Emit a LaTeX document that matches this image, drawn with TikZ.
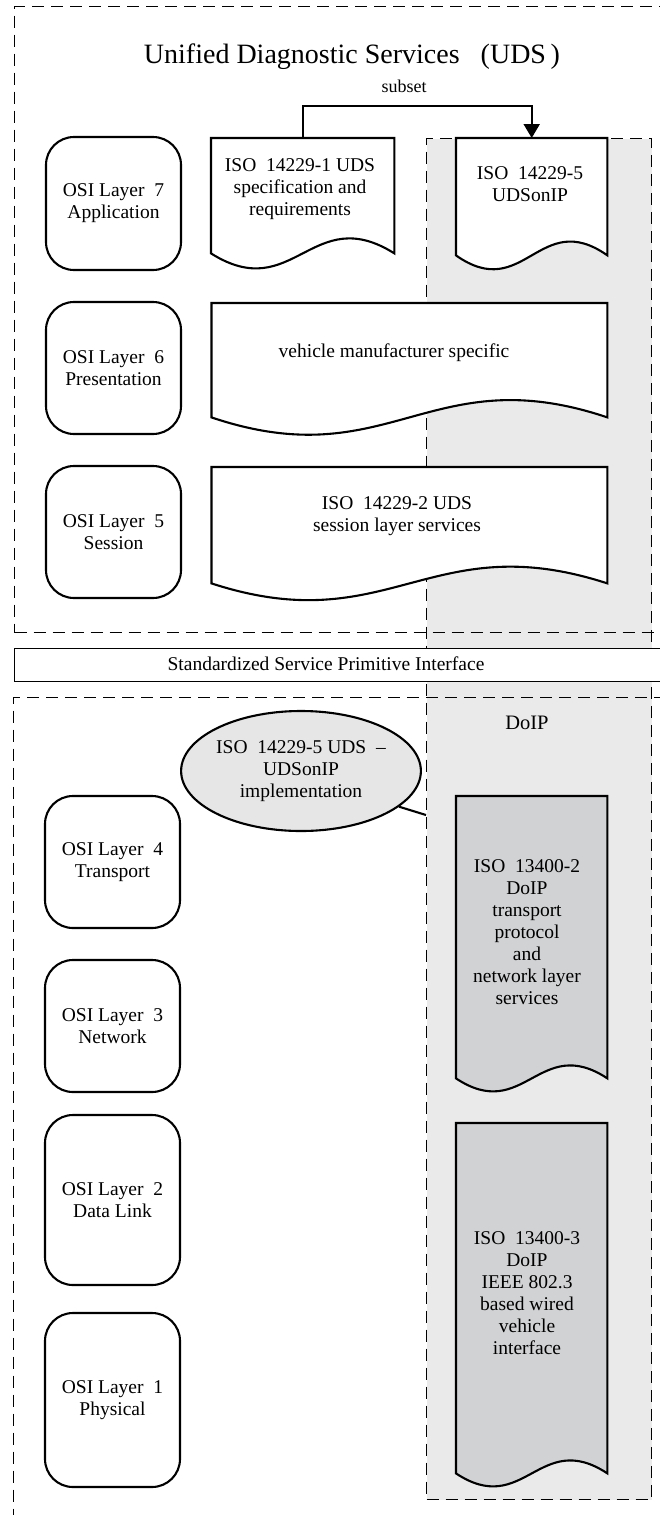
\documentclass[tikz,border=0pt]{standalone}
\usepackage{fontspec}
\setmainfont{Liberation Serif}
\usetikzlibrary{calc,shapes.geometric,arrows.meta}
\definecolor{colgrey}{HTML}{EAEAEA}
\definecolor{docgrey}{HTML}{D1D2D4}
\definecolor{ellgrey}{HTML}{E6E6E6}
\newcommand\normtext{\fontsize{19.5}{22}\selectfont}
\newcommand\docshape[3]{%
  \path[docline,fill=#2] (#1.north west) -- (#1.north east) -- (#1.south east)
    .. controls ($(#1.south west)!0.55!(#1.south east)+(0,-#3)$) and ($(#1.south west)!0.45!(#1.south east)+(0,#3)$) .. (#1.south west) -- cycle;}
\begin{document}
\begin{tikzpicture}[x=1pt,y=-1pt,
  frame/.style={draw=black, line width=1.3pt, dash pattern=on 12pt off 7pt, inner sep=0pt, anchor=north west},
  osibox/.style={draw, line width=2.1pt, rounded corners=28pt, minimum width=135pt, align=center, inner sep=0pt, font=\normtext, fill=white},
  docrect/.style={draw=none, inner sep=0pt, anchor=north west},
  docline/.style={draw, line width=2.1pt, line join=miter},
  txt/.style={align=center, inner sep=0pt, font=\normtext},
  arrowline/.style={draw, line width=2.1pt, -{Triangle[length=14pt,width=16pt]}},
]
\useasboundingbox (0,0) rectangle (660,1515);
\clip (0,0) rectangle (660,1515);

% DoIP column
\node[draw, line width=1.3pt, dash pattern=on 12pt off 7pt, fill=colgrey, anchor=north west,
      inner sep=0pt, minimum width=225pt, minimum height=1361pt] (col) at (426,138) {};

% frames
\node[frame, minimum width=680pt, minimum height=626pt] (uframe) at (14,6) {};
\node[frame, minimum width=680pt, minimum height=850pt] (lframe) at (13,697) {};

% interface bar
\node[draw, line width=1.4pt, fill=white, anchor=north west, inner sep=0pt,
      minimum width=680pt, minimum height=33pt] (bar) at (13.5,648) {};
\node[txt, anchor=base] (bartxt) at (326,670) {Standardized Service Primitive Interface};

% title
\node[inner sep=0pt, anchor=base, font=\fontsize{28}{32}\selectfont] (title) at (352,63)
  {Unified Diagnostic Services~~~(UDS\,)};

% OSI boxes
\node[osibox, minimum height=133pt] (osi7) at (113.5,203.5) {OSI Layer~~7\\Application};
\node[osibox, minimum height=132pt] (osi6) at (113.5,368) {OSI Layer~~6\\Presentation};
\node[osibox, minimum height=132pt] (osi5) at (113.5,532) {OSI Layer~~5\\Session};
\node[osibox, minimum height=132pt] (osi4) at (112.5,862) {OSI Layer~~4\\Transport};
\node[osibox, minimum height=132pt] (osi3) at (112.5,1026) {OSI Layer~~3\\Network};
\node[osibox, minimum height=170pt] (osi2) at (112.5,1200) {OSI Layer~~2\\Data Link};
\node[osibox, minimum height=174pt] (osi1) at (112.5,1400) {OSI Layer~~1\\Physical};

% documents
\node[docrect, minimum width=183pt, minimum height=115pt] (doc1) at (211,138) {};
\docshape{doc1}{white}{52}
\node[txt] (doc1t) at (300,189) {ISO~~14229-1 UDS\\specification and\\requirements};

\node[docrect, minimum width=151pt, minimum height=117pt] (doc2) at (456,138) {};
\docshape{doc2}{white}{48}
\node[txt] (doc2t) at (530,184) {ISO~~14229-5\\UDSonIP};

\node[docrect, minimum width=395.5pt, minimum height=114pt] (doc6) at (211.5,303) {};
\docshape{doc6}{white}{60}
\node[txt] (doc6t) at (394,352.5) {vehicle manufacturer specific};

\node[docrect, minimum width=395.5pt, minimum height=116pt] (doc5) at (211.5,467) {};
\docshape{doc5}{white}{58}
\node[txt] (doc5t) at (397,516) {ISO~~14229-2 UDS\\session layer services};

\node[docrect, minimum width=151pt, minimum height=282pt] (docA) at (456,796) {};
\docshape{docA}{docgrey}{45}
\node[txt] (docAt) at (527,932) {ISO~~13400-2\\DoIP\\transport\\protocol\\and\\network layer\\services};

\node[docrect, minimum width=151pt, minimum height=350pt] (docB) at (456,1123) {};
\docshape{docB}{docgrey}{45}
\node[txt] (docBt) at (527,1293) {ISO~~13400-3\\DoIP\\IEEE 802.3\\based wired\\vehicle\\interface};

% DoIP label
\node[inner sep=0pt, anchor=base, font=\fontsize{20.5}{24}\selectfont] (doip) at (527,729) {DoIP};

% subset arrow
\coordinate (a1) at ($(doc1.north west)+(92,0)$);
\draw[arrowline] (a1) -- ++(0,-32) -| (doc2.north);
\node[inner sep=0pt, anchor=base, font=\fontsize{18}{21}\selectfont] (subset) at (404,92) {subset};

% ellipse callout
\coordinate (ellend) at (426,815);
\node[ellipse, draw, line width=2.1pt, fill=ellgrey, minimum width=216pt, minimum height=120pt,
      inner sep=0pt, align=center, font=\normtext] (ell) at (301,771)
  {ISO~~14229-5 UDS~~--\\UDSonIP\\implementation};
\draw[line width=2.1pt] (ell.-20) -- (ellend);
\end{tikzpicture}
\end{document}
